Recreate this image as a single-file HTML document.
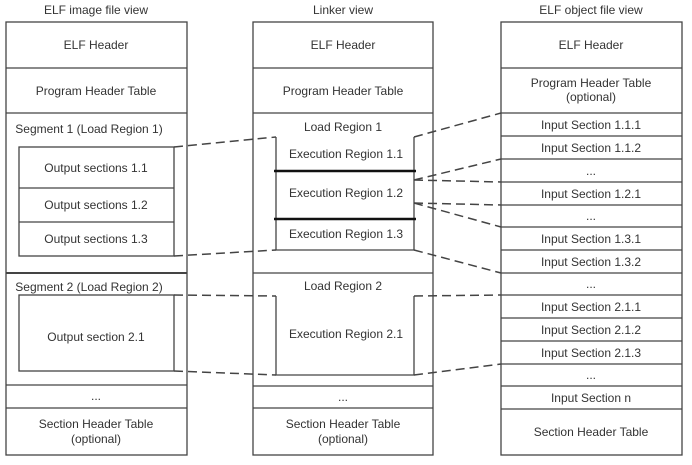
<!DOCTYPE html>
<html><head><meta charset="utf-8"><style>
html,body{margin:0;padding:0;background:#fff}
svg{display:block}
text{font-family:"Liberation Sans",Arial,sans-serif;font-size:12px;fill:#333;text-anchor:middle}
</style></head><body>
<svg width="692" height="465" viewBox="0 0 692 465" xmlns="http://www.w3.org/2000/svg">
<g fill="none" stroke="#444" stroke-width="1.3">
<!-- left column -->
<rect x="6" y="22" width="181" height="433"/>
<line x1="6" y1="68" x2="187" y2="68"/>
<line x1="6" y1="113" x2="187" y2="113"/>
<line x1="6" y1="273" x2="187" y2="273" stroke-width="2"/>
<line x1="6" y1="385" x2="187" y2="385"/>
<line x1="6" y1="408" x2="187" y2="408"/>
<rect x="19" y="147" width="155" height="109"/>
<line x1="19" y1="188" x2="174" y2="188"/>
<line x1="19" y1="222" x2="174" y2="222"/>
<rect x="19" y="295" width="155" height="76"/>
<!-- middle column -->
<rect x="253" y="22" width="180" height="433"/>
<line x1="253" y1="68" x2="433" y2="68"/>
<line x1="253" y1="113" x2="433" y2="113"/>
<line x1="253" y1="273" x2="433" y2="273"/>
<line x1="253" y1="386" x2="433" y2="386"/>
<line x1="253" y1="408" x2="433" y2="408"/>
<path d="M276 137 V250 H414 V137"/>
<line x1="274" y1="171" x2="416" y2="171" stroke="#111" stroke-width="2.5"/>
<line x1="274" y1="219" x2="416" y2="219" stroke="#111" stroke-width="2.5"/>
<path d="M276 296 V375 H414 V296"/>
<!-- right column -->
<rect x="501" y="22" width="181" height="433"/>
<g>
<line x1="501" y1="68" x2="682" y2="68"/>
<line x1="501" y1="113" x2="682" y2="113"/>
<line x1="501" y1="136" x2="682" y2="136"/>
<line x1="501" y1="159" x2="682" y2="159"/>
<line x1="501" y1="182" x2="682" y2="182"/>
<line x1="501" y1="205" x2="682" y2="205"/>
<line x1="501" y1="227" x2="682" y2="227"/>
<line x1="501" y1="250" x2="682" y2="250"/>
<line x1="501" y1="273" x2="682" y2="273"/>
<line x1="501" y1="295" x2="682" y2="295"/>
<line x1="501" y1="318" x2="682" y2="318"/>
<line x1="501" y1="341" x2="682" y2="341"/>
<line x1="501" y1="364" x2="682" y2="364"/>
<line x1="501" y1="386" x2="682" y2="386"/>
<line x1="501" y1="409" x2="682" y2="409"/>
</g>
</g>
<g fill="none" stroke="#444" stroke-width="1.5" stroke-dasharray="9,5">
<line x1="174" y1="147" x2="276" y2="137"/>
<line x1="174" y1="256" x2="276" y2="250"/>
<line x1="174" y1="295" x2="276" y2="296"/>
<line x1="174" y1="371" x2="276" y2="375"/>
<line x1="414" y1="137" x2="501" y2="113"/>
<line x1="414" y1="180" x2="501" y2="159"/>
<line x1="414" y1="180" x2="501" y2="182"/>
<line x1="414" y1="203" x2="501" y2="205"/>
<line x1="414" y1="203" x2="501" y2="227"/>
<line x1="414" y1="250" x2="501" y2="273"/>
<line x1="414" y1="296" x2="501" y2="295"/>
<line x1="414" y1="375" x2="501" y2="364"/>
</g>
<g>
<text x="96" y="14">ELF image file view</text>
<text x="343" y="14">Linker view</text>
<text x="591" y="14">ELF object file view</text>

<text x="96" y="49">ELF Header</text>
<text x="96" y="95">Program Header Table</text>
<text x="89" y="133">Segment 1 (Load Region 1)</text>
<text x="96" y="172">Output sections 1.1</text>
<text x="96" y="209">Output sections 1.2</text>
<text x="96" y="243">Output sections 1.3</text>
<text x="89" y="291">Segment 2 (Load Region 2)</text>
<text x="96" y="341">Output section 2.1</text>
<text x="96" y="400" font-size="9">...</text>
<text x="96" y="428">Section Header Table</text>
<text x="96" y="443">(optional)</text>

<text x="343" y="49">ELF Header</text>
<text x="343" y="95">Program Header Table</text>
<text x="343" y="131">Load Region 1</text>
<text x="346" y="158">Execution Region 1.1</text>
<text x="346" y="197">Execution Region 1.2</text>
<text x="346" y="238">Execution Region 1.3</text>
<text x="343" y="290">Load Region 2</text>
<text x="346" y="338">Execution Region 2.1</text>
<text x="343" y="401" font-size="9">...</text>
<text x="343" y="428">Section Header Table</text>
<text x="343" y="443">(optional)</text>

<text x="591" y="49">ELF Header</text>
<text x="591" y="87">Program Header Table</text>
<text x="591" y="101">(optional)</text>
<text x="591" y="129">Input Section 1.1.1</text>
<text x="591" y="152">Input Section 1.1.2</text>
<text x="591" y="175" font-size="9">...</text>
<text x="591" y="198">Input Section 1.2.1</text>
<text x="591" y="220" font-size="9">...</text>
<text x="591" y="243">Input Section 1.3.1</text>
<text x="591" y="266">Input Section 1.3.2</text>
<text x="591" y="288" font-size="9">...</text>
<text x="591" y="311">Input Section 2.1.1</text>
<text x="591" y="334">Input Section 2.1.2</text>
<text x="591" y="357">Input Section 2.1.3</text>
<text x="591" y="379" font-size="9">...</text>
<text x="591" y="402">Input Section n</text>
<text x="591" y="436">Section Header Table</text>
</g>
</svg>
</body></html>
